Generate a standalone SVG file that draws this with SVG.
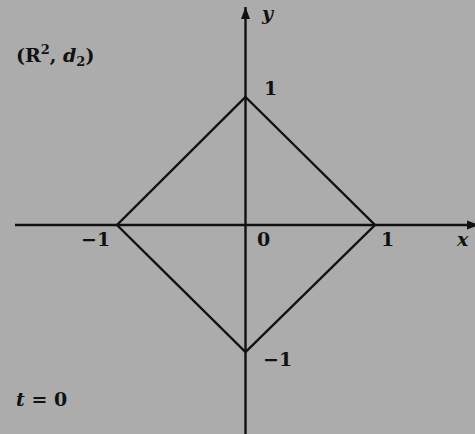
<svg xmlns="http://www.w3.org/2000/svg" width="475" height="434" viewBox="0 0 475 434">
<defs>
<style>
.ln{stroke:#111;stroke-width:2.4;fill:none}
.t{font-family:"DejaVu Serif","Liberation Serif",serif;font-weight:bold;font-size:19px;fill:#111}
.i{font-style:italic}
</style>
<marker id="ah" viewBox="0 0 12 10" refX="12" refY="5" markerWidth="12" markerHeight="10" markerUnits="userSpaceOnUse" orient="auto">
<path d="M0,0.5 L12,5 L0,9.5 Z" fill="#111"/>
</marker>
</defs>
<rect width="475" height="434" fill="#acacac"/>
<g id="axes">
<line class="ln" x1="15" y1="225" x2="479" y2="225" marker-end="url(#ah)"/>
<line class="ln" x1="245.5" y1="434" x2="245.5" y2="7" marker-end="url(#ah)"/>
</g>
<g id="diamond">
<polygon class="ln" points="245.5,97 375,225 245.5,352 117,225"/>
</g>
<g id="labels">
<text class="t i" x="262" y="20">y</text>
<text class="t" x="264" y="95">1</text>
<text class="t" x="16" y="62">(R<tspan font-size="13" dy="-8">2</tspan><tspan dy="8">, </tspan><tspan class="i">d</tspan><tspan font-size="13" dy="4">2</tspan><tspan dy="-4">)</tspan></text>
<text class="t" x="81" y="246">−1</text>
<text class="t" x="257" y="246">0</text>
<text class="t" x="381" y="246">1</text>
<text class="t i" x="457" y="246">x</text>
<text class="t" x="263" y="366">−1</text>
<text class="t" x="16" y="406"><tspan class="i">t</tspan> = 0</text>
</g>
</svg>
